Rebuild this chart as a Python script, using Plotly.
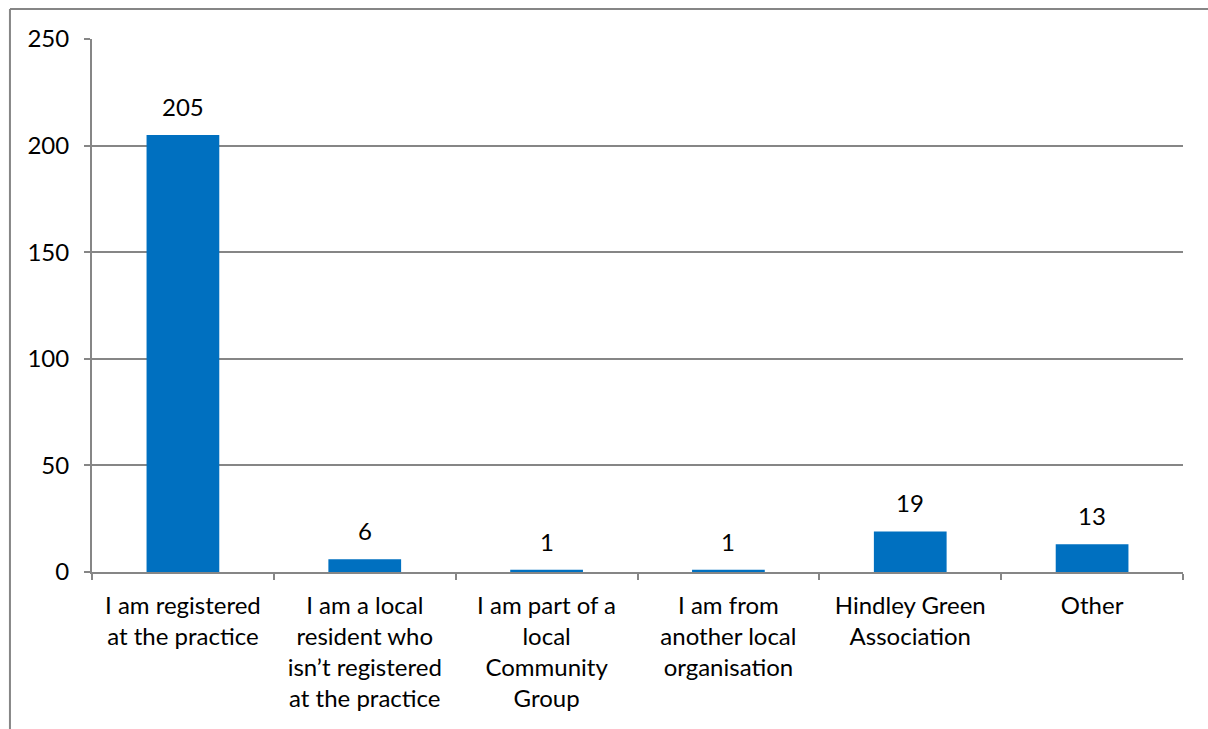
import plotly.graph_objects as go

categories = [
    "I am registered<br>at the practice",
    "I am a local<br>resident who<br>isn’t registered<br>at the practice",
    "I am part of a<br>local<br>Community<br>Group",
    "I am from<br>another local<br>organisation",
    "Hindley Green<br>Association",
    "Other",
]
values = [205, 6, 1, 1, 19, 13]
y_ticks = [0, 50, 100, 150, 200, 250]

FONT = "Lato"
FS = 24
GRAY = "#868686"

fig = go.Figure(
    go.Bar(
        x=categories,
        y=values,
        marker=dict(color="#0070C0", line=dict(width=0)),
        hoverinfo="x+y",
    )
)

for c, v in zip(categories, values):
    fig.add_annotation(
        x=c, y=v, text=str(v), showarrow=False,
        yanchor="bottom", yshift=12,
        font=dict(family=FONT, size=FS, color="#000000"),
    )

fig.update_layout(
    width=1208,
    height=729,
    margin=dict(l=92, r=25, t=39, b=157, autoexpand=False),
    paper_bgcolor="white",
    plot_bgcolor="white",
    bargap=0.6,
    showlegend=False,
    font=dict(family=FONT, size=FS, color="#000000"),
    xaxis=dict(
        type="category",
        automargin=False,
        showline=True,
        linecolor=GRAY,
        linewidth=2,
        ticks="outside",
        tickson="boundaries",
        ticklen=6,
        tickcolor=GRAY,
        tickwidth=2,
        showgrid=False,
        tickfont=dict(family=FONT, size=FS),
        ticklabelstandoff=11,
    ),
    yaxis=dict(
        range=[0, 250],
        automargin=False,
        tickvals=y_ticks,
        showline=True,
        linecolor=GRAY,
        linewidth=2,
        ticks="outside",
        ticklen=6,
        tickcolor=GRAY,
        tickwidth=2,
        showgrid=True,
        gridcolor=GRAY,
        gridwidth=1.5,
        zeroline=False,
        tickfont=dict(family=FONT, size=FS),
        ticklabelstandoff=10,
    ),
    shapes=[
        dict(type="line", xref="paper", yref="paper",
             x0=-0.0752, x1=1.1, y0=1.0563, y1=1.0563,
             line=dict(color=GRAY, width=2)),
        dict(type="line", xref="paper", yref="paper",
             x0=-0.0752, x1=-0.0752, y0=1.0563, y1=-0.31,
             line=dict(color=GRAY, width=2)),
    ],
)

fig.write_html(
    "out.html",
    config={"displayModeBar": False},
    post_script="document.body.style.margin='0';document.body.style.overflow='hidden';",
)
